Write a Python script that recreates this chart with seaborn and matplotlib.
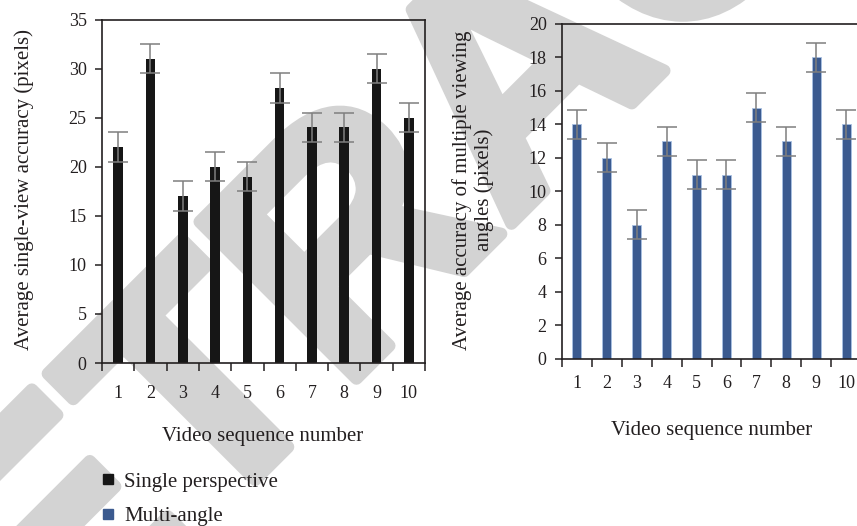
import matplotlib
matplotlib.use("Agg")
import matplotlib.pyplot as plt
import matplotlib.patheffects as pe
from matplotlib.lines import Line2D
import numpy as np
import pandas as pd
import seaborn as sns

# Per-sequence accuracy values (pixels)
sequences = ["1", "2", "3", "4", "5", "6", "7", "8", "9", "10"]
single_view = [22, 31, 17, 20, 19, 28, 24, 24, 30, 25]
multi_angle = [14, 12, 8, 13, 11, 11, 15, 13, 18, 14]
single_err = [1.5] * 10
multi_err = [0.86] * 10

single_ticks = [0, 5, 10, 15, 20, 25, 30, 35]
multi_ticks = [0, 2, 4, 6, 8, 10, 12, 14, 16, 18, 20]

series_names = ["Single perspective", "Multi-angle"]
series_colors = ["#161616", "#3b5a8f"]

df = pd.DataFrame({"seq": sequences, "single": single_view, "multi": multi_angle})

sns.set_theme(style="white")
plt.rcParams["font.family"] = ["Liberation Serif", "DejaVu Serif"]
plt.rcParams["text.color"] = "#231f20"
ink = "#231f20"

W, H = 857, 526
fig = plt.figure(figsize=(W / 100, H / 100), dpi=100)

# Diagonal stamp behind everything
stamp_grey = "#d3d3d3"
fig.text(588 / W, 1 - 147 / H, "RETRACTED", rotation=45, rotation_mode="anchor",
         ha="center", va="baseline", fontsize=232, fontweight="bold",
         family="Liberation Sans", color=stamp_grey, zorder=-5,
         path_effects=[pe.withStroke(linewidth=9, foreground=stamp_grey)])


def px_axes(x0, y0, x1, y1):
    return fig.add_axes([x0 / W, 1 - y1 / H, (x1 - x0) / W, (y1 - y0) / H])


ax1 = px_axes(102, 19.5, 425, 363)
ax2 = px_axes(562, 24, 861, 358.7)

panels = [
    (ax1, "single", single_err, series_colors[0], None, single_ticks, 35, 15.5),
    (ax2, "multi", multi_err, series_colors[1], "#a9c1e3", multi_ticks, 20, 12),
]

for ax, col, err, color, edge, yticks, ymax, xpad in panels:
    ax.patch.set_alpha(0)
    sns.barplot(data=df, x="seq", y=col, order=sequences, color=color,
                width=0.3, errorbar=None, saturation=1, ax=ax,
                edgecolor=edge if edge else color, linewidth=0.6 if edge else 0)
    centers = [p.get_x() + p.get_width() / 2 for p in ax.patches]
    heights = [p.get_height() for p in ax.patches]
    ax.errorbar(centers, heights, yerr=err, fmt="none", ecolor="#7f7f7f",
                elinewidth=1.1, capsize=7, capthick=1.1, zorder=5)
    ax.set_xlim(-0.5, 9.5)
    ax.set_ylim(0, ymax)
    ax.set_yticks(yticks)
    ax.set_xticks(range(10))
    ax.set_xticklabels(sequences)
    ax.set_xticks(np.arange(-0.5, 10, 1), minor=True)
    ax.tick_params(axis="x", which="major", length=0, pad=xpad, labelsize=13, labelcolor=ink)
    ax.tick_params(axis="x", which="minor", length=5.5, width=1.1, color=ink, direction="out", bottom=True)
    ax.tick_params(axis="y", length=5, width=1.1, color=ink, direction="out", left=True,
                   pad=6, labelsize=13, labelcolor=ink)
    ax.set_xlabel("")
    ax.set_ylabel("")
    for s in ax.spines.values():
        s.set_visible(True)
        s.set_color(ink)
        s.set_linewidth(1.2)

fig.text(263 / W, 1 - 436 / H, "Video sequence number", ha="center", va="center", fontsize=15)
fig.text(712 / W, 1 - 430 / H, "Video sequence number", ha="center", va="center", fontsize=15)
fig.text(24 / W, 1 - 190 / H, "Average single-view accuracy (pixels)", rotation=90,
         ha="center", va="center", fontsize=15)
fig.text(473 / W, 1 - 190 / H, "Average accuracy of multiple viewing\nangles (pixels)",
         rotation=90, ha="center", va="center", multialignment="center",
         fontsize=15, linespacing=1.15)

handles = [Line2D([], [], marker="s", linestyle="", markersize=7, color=c) for c in series_colors]
fig.legend(handles, series_names, loc="center left", bbox_to_anchor=(100 / W, 1 - 499 / H),
           frameon=False, fontsize=15, handlelength=0.8, handletextpad=0.35,
           labelspacing=0.7, borderpad=0, borderaxespad=0)

fig.savefig("out.png", dpi=100)
